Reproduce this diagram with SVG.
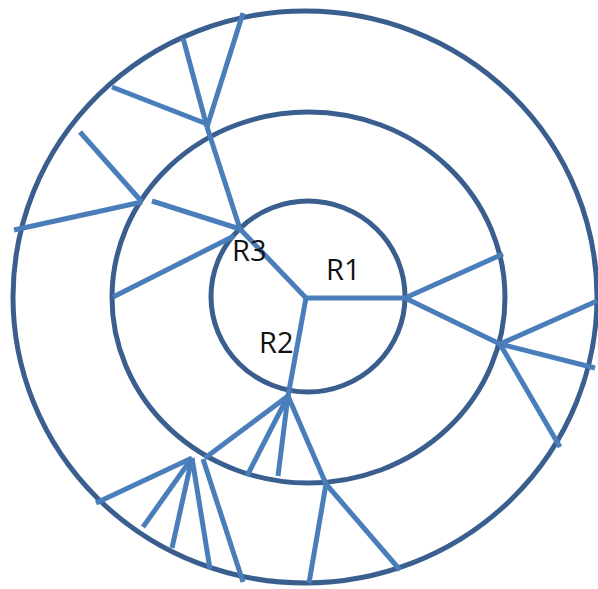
<svg xmlns="http://www.w3.org/2000/svg" width="598" height="589" viewBox="0 0 598 589">
<style>
.ring{fill:none;stroke:#3A5F8F;stroke-width:5}
.ln{stroke:#4A7EBB;stroke-width:5;stroke-linecap:butt;fill:none}
.lbl{font-family:"Open Sans","Noto Sans",sans-serif;font-size:29px;fill:#111}
</style>
<rect width="598" height="589" fill="#fff"/>
<g id="outer-ring"><ellipse class="ring" cx="305" cy="297" rx="292" ry="286"/></g>
<g id="middle-ring"><ellipse class="ring" cx="308.5" cy="297.5" rx="196.5" ry="185.5"/></g>
<g id="inner-ring"><ellipse class="ring" cx="308" cy="296.5" rx="97" ry="95.5"/></g>
<g id="connectors" class="ln">
<line x1="306" y1="298" x2="240" y2="229"/>
<line x1="304" y1="298" x2="405" y2="298"/>
<line x1="306" y1="298" x2="288" y2="396"/>
<line x1="183" y1="38" x2="207" y2="127"/>
<line x1="207" y1="127" x2="240" y2="229"/>
<line x1="243" y1="13" x2="207" y2="127"/>
<line x1="112" y1="87" x2="207" y2="124"/>
<line x1="80" y1="132" x2="142" y2="202"/>
<line x1="14" y1="230" x2="142" y2="202"/>
<line x1="152" y1="201" x2="240" y2="229"/>
<line x1="113" y1="297" x2="234" y2="236"/>
<line x1="405" y1="298" x2="503" y2="254"/>
<line x1="405" y1="298" x2="500" y2="344"/>
<line x1="500" y1="344" x2="597" y2="301"/>
<line x1="500" y1="344" x2="595" y2="368"/>
<line x1="500" y1="344" x2="560" y2="447"/>
<line x1="288" y1="396" x2="326" y2="484"/>
<line x1="326" y1="484" x2="309" y2="583"/>
<line x1="326" y1="484" x2="400" y2="570"/>
<line x1="288" y1="396" x2="205" y2="458"/>
<line x1="288" y1="396" x2="247" y2="476"/>
<line x1="288" y1="396" x2="278" y2="476"/>
<line x1="192" y1="458" x2="96" y2="503"/>
<line x1="192" y1="458" x2="143" y2="527"/>
<line x1="192" y1="458" x2="172" y2="548"/>
<line x1="192" y1="458" x2="210" y2="569"/>
<line x1="203" y1="459" x2="243" y2="582"/>
</g>
<g id="labels">
<text class="lbl" x="232" y="261">R3</text>
<text class="lbl" x="326" y="280">R1</text>
<text class="lbl" x="259" y="353">R2</text>
</g>
</svg>
